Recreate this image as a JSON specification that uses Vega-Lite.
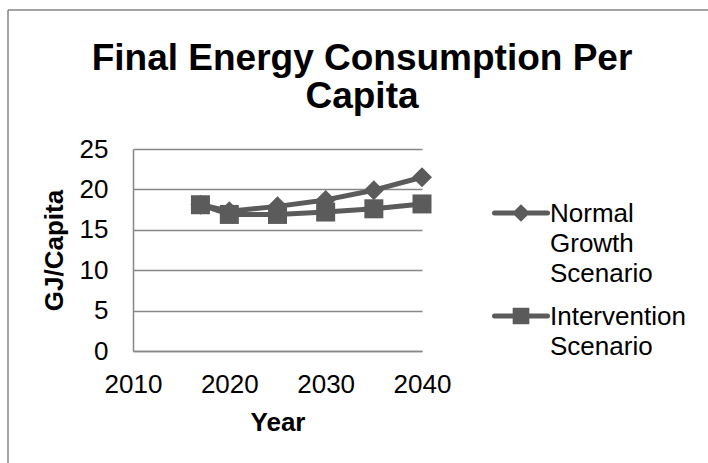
{
  "$schema": "https://vega.github.io/schema/vega-lite/v6.json",
  "width": 700,
  "height": 453,
  "autosize": {"type": "none"},
  "padding": {"left": 8, "top": 10, "right": 0, "bottom": 0},
  "background": "white",
  "config": {
    "font": "Liberation Sans",
    "view": {"stroke": "#878787", "strokeWidth": 1.5, "strokeDash": [700, 1153, 453, 0]}
  },
  "title": {
    "text": ["Final Energy Consumption Per", "Capita"],
    "fontSize": 37,
    "fontWeight": "bold",
    "color": "black",
    "lineHeight": 38,
    "anchor": "middle",
    "frame": "group",
    "baseline": "alphabetic",
    "offset": -135,
    "dx": 4
  },
  "data": {
    "values": [
      {"series": "Normal Growth Scenario", "year": 2017, "value": 18.1},
      {"series": "Normal Growth Scenario", "year": 2020, "value": 17.3},
      {"series": "Normal Growth Scenario", "year": 2025, "value": 17.9},
      {"series": "Normal Growth Scenario", "year": 2030, "value": 18.7},
      {"series": "Normal Growth Scenario", "year": 2035, "value": 19.9},
      {"series": "Normal Growth Scenario", "year": 2040, "value": 21.5},
      {"series": "Intervention Scenario", "year": 2017, "value": 18.1},
      {"series": "Intervention Scenario", "year": 2020, "value": 16.9},
      {"series": "Intervention Scenario", "year": 2025, "value": 16.9},
      {"series": "Intervention Scenario", "year": 2030, "value": 17.2},
      {"series": "Intervention Scenario", "year": 2035, "value": 17.6},
      {"series": "Intervention Scenario", "year": 2040, "value": 18.2}
    ]
  },
  "encoding": {
    "x": {
      "field": "year",
      "type": "quantitative",
      "scale": {"domain": [2010, 2040], "range": [125, 414], "nice": false, "zero": false},
      "axis": {
        "values": [2010, 2020, 2030, 2040],
        "format": "d",
        "grid": false,
        "ticks": false,
        "tickSize": 0,
        "domainColor": "#878787",
        "domainWidth": 1.5,
        "labelFontSize": 26,
        "labelColor": "black",
        "labelPadding": 20,
        "labelFlush": false,
        "labelOverlap": false,
        "title": "Year",
        "titleFontSize": 26,
        "titleFontWeight": "bold",
        "titleColor": "black",
        "titlePadding": 12,
        "offset": -112
      }
    },
    "y": {
      "field": "value",
      "type": "quantitative",
      "scale": {"domain": [0, 25], "range": [341, 139], "nice": false},
      "axis": {
        "values": [0, 5, 10, 15, 20, 25],
        "grid": true,
        "gridColor": "#878787",
        "gridWidth": 1.5,
        "ticks": false,
        "tickSize": 0,
        "domainColor": "#878787",
        "domainWidth": 1.5,
        "labelFontSize": 26,
        "labelColor": "black",
        "labelPadding": 25,
        "labelFlush": false,
        "labelOverlap": false,
        "title": "GJ/Capita",
        "titleFontSize": 26,
        "titleFontWeight": "bold",
        "titleColor": "black",
        "titlePadding": 12,
        "offset": -125
      }
    }
  },
  "layer": [
    {
      "mark": {"type": "line", "strokeWidth": 5, "strokeJoin": "round", "strokeCap": "round"},
      "encoding": {
        "detail": {"field": "series"},
        "color": {
          "field": "series",
          "type": "nominal",
          "scale": {"domain": ["Normal Growth Scenario", "Intervention Scenario"], "range": ["#5b5b5b", "#5b5b5b"]},
          "legend": {
            "title": null,
            "orient": "none",
            "legendX": 484,
            "legendY": 174,
            "padding": 0,
            "rowPadding": -9,
            "labelFontSize": 26,
            "labelColor": "black",
            "labelOffset": 0,
            "labelLimit": 300,
            "labelBaseline": "alphabetic",
            "labelExpr": "split(datum.label, ' ')",
            "symbolSize": 2809,
            "encode": {
              "symbols": {
                "update": {
                  "shape": {"signal": "datum.value === 'Normal Growth Scenario' ? 'M-1,0H1M0,-0.2L0.2,0L0,0.2L-0.2,0Z' : 'M-1,0H1M-0.22,-0.22H0.22V0.22H-0.22Z'"},
                  "size": {"value": 2809},
                  "fill": {"value": "#5b5b5b"},
                  "stroke": {"value": "#5b5b5b"},
                  "strokeWidth": {"value": 5},
                  "strokeCap": {"value": "round"},
                  "opacity": {"value": 1}
                }
              },
              "labels": {
                "update": {
                  "lineHeight": {"value": 30},
                  "dy": {"value": 9}
                }
              }
            }
          }
        }
      }
    },
    {
      "transform": [{"filter": "datum.series === 'Normal Growth Scenario'"}],
      "mark": {"type": "point", "shape": "diamond", "filled": true, "opacity": 1, "color": "#5b5b5b", "size": 400}
    },
    {
      "transform": [{"filter": "datum.series === 'Intervention Scenario'"}],
      "mark": {"type": "point", "shape": "square", "filled": true, "opacity": 1, "color": "#5b5b5b", "size": 361}
    }
  ]
}
